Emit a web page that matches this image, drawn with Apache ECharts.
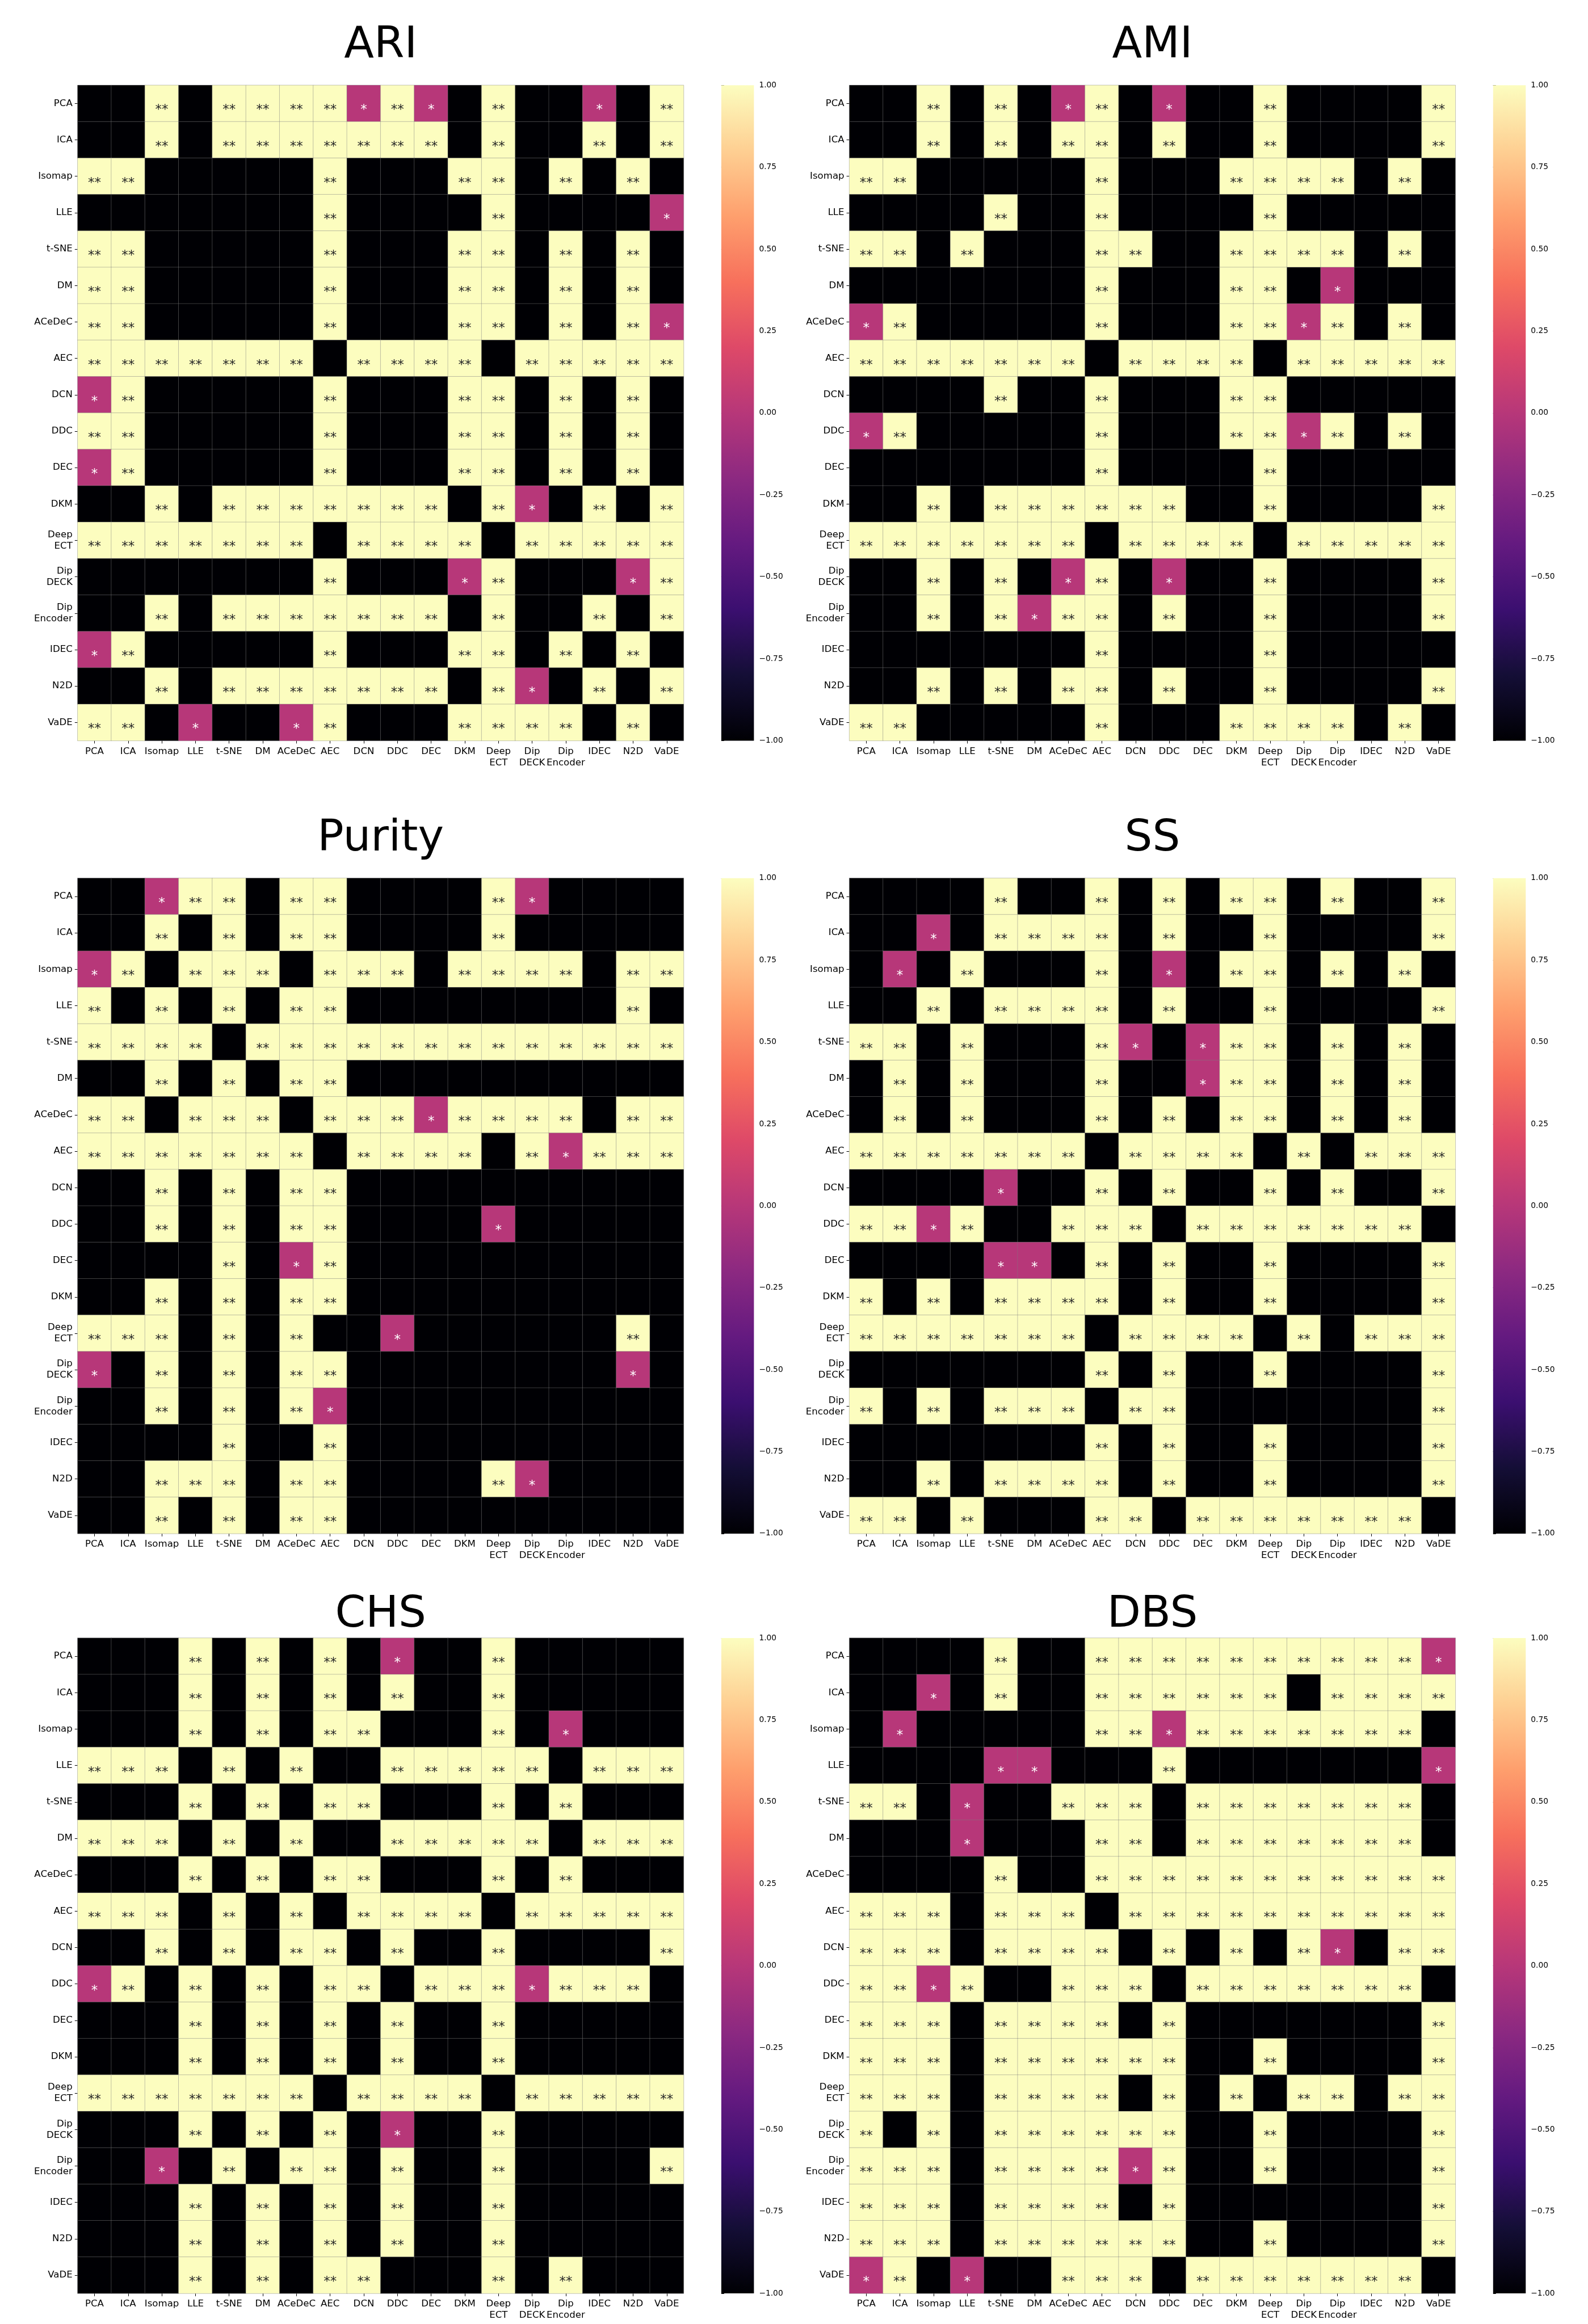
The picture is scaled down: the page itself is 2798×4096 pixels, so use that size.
<!DOCTYPE html>
<html>
<head>
<meta charset="utf-8">
<script src="https://cdn.jsdelivr.net/npm/echarts@6/dist/echarts.min.js"></script>
<style>html,body{margin:0;padding:0;background:#fff;}#chart{width:2798px;height:4096px;}</style>
</head>
<body>
<div id="chart"></div>
<script>
// ---- data ----
const methods = ['PCA','ICA','Isomap','LLE','t-SNE','DM','ACeDeC','AEC','DCN','DDC','DEC','DKM','Deep\nECT','Dip\nDECK','Dip\nEncoder','IDEC','N2D','VaDE'];
const panelTitles = ['ARI','AMI','Purity','SS','CHS','DBS'];
const cbTicks = [-1,-0.75,-0.5,-0.25,0,0.25,0.5,0.75,1];
const cbMin = -1, cbMax = 1;
// 1 = "**", 0 = "*", -1 = not significant
const ari = [
[-1,-1,1,-1,1,1,1,1,0,1,0,-1,1,-1,-1,0,-1,1],
[-1,-1,1,-1,1,1,1,1,1,1,1,-1,1,-1,-1,1,-1,1],
[1,1,-1,-1,-1,-1,-1,1,-1,-1,-1,1,1,-1,1,-1,1,-1],
[-1,-1,-1,-1,-1,-1,-1,1,-1,-1,-1,-1,1,-1,-1,-1,-1,0],
[1,1,-1,-1,-1,-1,-1,1,-1,-1,-1,1,1,-1,1,-1,1,-1],
[1,1,-1,-1,-1,-1,-1,1,-1,-1,-1,1,1,-1,1,-1,1,-1],
[1,1,-1,-1,-1,-1,-1,1,-1,-1,-1,1,1,-1,1,-1,1,0],
[1,1,1,1,1,1,1,-1,1,1,1,1,-1,1,1,1,1,1],
[0,1,-1,-1,-1,-1,-1,1,-1,-1,-1,1,1,-1,1,-1,1,-1],
[1,1,-1,-1,-1,-1,-1,1,-1,-1,-1,1,1,-1,1,-1,1,-1],
[0,1,-1,-1,-1,-1,-1,1,-1,-1,-1,1,1,-1,1,-1,1,-1],
[-1,-1,1,-1,1,1,1,1,1,1,1,-1,1,0,-1,1,-1,1],
[1,1,1,1,1,1,1,-1,1,1,1,1,-1,1,1,1,1,1],
[-1,-1,-1,-1,-1,-1,-1,1,-1,-1,-1,0,1,-1,-1,-1,0,1],
[-1,-1,1,-1,1,1,1,1,1,1,1,-1,1,-1,-1,1,-1,1],
[0,1,-1,-1,-1,-1,-1,1,-1,-1,-1,1,1,-1,1,-1,1,-1],
[-1,-1,1,-1,1,1,1,1,1,1,1,-1,1,0,-1,1,-1,1],
[1,1,-1,0,-1,-1,0,1,-1,-1,-1,1,1,1,1,-1,1,-1]
];
const ami = [
[-1,-1,1,-1,1,-1,0,1,-1,0,-1,-1,1,-1,-1,-1,-1,1],
[-1,-1,1,-1,1,-1,1,1,-1,1,-1,-1,1,-1,-1,-1,-1,1],
[1,1,-1,-1,-1,-1,-1,1,-1,-1,-1,1,1,1,1,-1,1,-1],
[-1,-1,-1,-1,1,-1,-1,1,-1,-1,-1,-1,1,-1,-1,-1,-1,-1],
[1,1,-1,1,-1,-1,-1,1,1,-1,-1,1,1,1,1,-1,1,-1],
[-1,-1,-1,-1,-1,-1,-1,1,-1,-1,-1,1,1,-1,0,-1,-1,-1],
[0,1,-1,-1,-1,-1,-1,1,-1,-1,-1,1,1,0,1,-1,1,-1],
[1,1,1,1,1,1,1,-1,1,1,1,1,-1,1,1,1,1,1],
[-1,-1,-1,-1,1,-1,-1,1,-1,-1,-1,1,1,-1,-1,-1,-1,-1],
[0,1,-1,-1,-1,-1,-1,1,-1,-1,-1,1,1,0,1,-1,1,-1],
[-1,-1,-1,-1,-1,-1,-1,1,-1,-1,-1,-1,1,-1,-1,-1,-1,-1],
[-1,-1,1,-1,1,1,1,1,1,1,-1,-1,1,-1,-1,-1,-1,1],
[1,1,1,1,1,1,1,-1,1,1,1,1,-1,1,1,1,1,1],
[-1,-1,1,-1,1,-1,0,1,-1,0,-1,-1,1,-1,-1,-1,-1,1],
[-1,-1,1,-1,1,0,1,1,-1,1,-1,-1,1,-1,-1,-1,-1,1],
[-1,-1,-1,-1,-1,-1,-1,1,-1,-1,-1,-1,1,-1,-1,-1,-1,-1],
[-1,-1,1,-1,1,-1,1,1,-1,1,-1,-1,1,-1,-1,-1,-1,1],
[1,1,-1,-1,-1,-1,-1,1,-1,-1,-1,1,1,1,1,-1,1,-1]
];
const purity = [
[-1,-1,0,1,1,-1,1,1,-1,-1,-1,-1,1,0,-1,-1,-1,-1],
[-1,-1,1,-1,1,-1,1,1,-1,-1,-1,-1,1,-1,-1,-1,-1,-1],
[0,1,-1,1,1,1,-1,1,1,1,-1,1,1,1,1,-1,1,1],
[1,-1,1,-1,1,-1,1,1,-1,-1,-1,-1,-1,-1,-1,-1,1,-1],
[1,1,1,1,-1,1,1,1,1,1,1,1,1,1,1,1,1,1],
[-1,-1,1,-1,1,-1,1,1,-1,-1,-1,-1,-1,-1,-1,-1,-1,-1],
[1,1,-1,1,1,1,-1,1,1,1,0,1,1,1,1,-1,1,1],
[1,1,1,1,1,1,1,-1,1,1,1,1,-1,1,0,1,1,1],
[-1,-1,1,-1,1,-1,1,1,-1,-1,-1,-1,-1,-1,-1,-1,-1,-1],
[-1,-1,1,-1,1,-1,1,1,-1,-1,-1,-1,0,-1,-1,-1,-1,-1],
[-1,-1,-1,-1,1,-1,0,1,-1,-1,-1,-1,-1,-1,-1,-1,-1,-1],
[-1,-1,1,-1,1,-1,1,1,-1,-1,-1,-1,-1,-1,-1,-1,-1,-1],
[1,1,1,-1,1,-1,1,-1,-1,0,-1,-1,-1,-1,-1,-1,1,-1],
[0,-1,1,-1,1,-1,1,1,-1,-1,-1,-1,-1,-1,-1,-1,0,-1],
[-1,-1,1,-1,1,-1,1,0,-1,-1,-1,-1,-1,-1,-1,-1,-1,-1],
[-1,-1,-1,-1,1,-1,-1,1,-1,-1,-1,-1,-1,-1,-1,-1,-1,-1],
[-1,-1,1,1,1,-1,1,1,-1,-1,-1,-1,1,0,-1,-1,-1,-1],
[-1,-1,1,-1,1,-1,1,1,-1,-1,-1,-1,-1,-1,-1,-1,-1,-1]
];
const ss = [
[-1,-1,-1,-1,1,-1,-1,1,-1,1,-1,1,1,-1,1,-1,-1,1],
[-1,-1,0,-1,1,1,1,1,-1,1,-1,-1,1,-1,-1,-1,-1,1],
[-1,0,-1,1,-1,-1,-1,1,-1,0,-1,1,1,-1,1,-1,1,-1],
[-1,-1,1,-1,1,1,1,1,-1,1,-1,-1,1,-1,-1,-1,-1,1],
[1,1,-1,1,-1,-1,-1,1,0,-1,0,1,1,-1,1,-1,1,-1],
[-1,1,-1,1,-1,-1,-1,1,-1,-1,0,1,1,-1,1,-1,1,-1],
[-1,1,-1,1,-1,-1,-1,1,-1,1,-1,1,1,-1,1,-1,1,-1],
[1,1,1,1,1,1,1,-1,1,1,1,1,-1,1,-1,1,1,1],
[-1,-1,-1,-1,0,-1,-1,1,-1,1,-1,-1,1,-1,1,-1,-1,1],
[1,1,0,1,-1,-1,1,1,1,-1,1,1,1,1,1,1,1,-1],
[-1,-1,-1,-1,0,0,-1,1,-1,1,-1,-1,1,-1,-1,-1,-1,1],
[1,-1,1,-1,1,1,1,1,-1,1,-1,-1,1,-1,-1,-1,-1,1],
[1,1,1,1,1,1,1,-1,1,1,1,1,-1,1,-1,1,1,1],
[-1,-1,-1,-1,-1,-1,-1,1,-1,1,-1,-1,1,-1,-1,-1,-1,1],
[1,-1,1,-1,1,1,1,-1,1,1,-1,-1,-1,-1,-1,-1,-1,1],
[-1,-1,-1,-1,-1,-1,-1,1,-1,1,-1,-1,1,-1,-1,-1,-1,1],
[-1,-1,1,-1,1,1,1,1,-1,1,-1,-1,1,-1,-1,-1,-1,1],
[1,1,-1,1,-1,-1,-1,1,1,-1,1,1,1,1,1,1,1,-1]
];
const chs = [
[-1,-1,-1,1,-1,1,-1,1,-1,0,-1,-1,1,-1,-1,-1,-1,-1],
[-1,-1,-1,1,-1,1,-1,1,-1,1,-1,-1,1,-1,-1,-1,-1,-1],
[-1,-1,-1,1,-1,1,-1,1,1,-1,-1,-1,1,-1,0,-1,-1,-1],
[1,1,1,-1,1,-1,1,-1,-1,1,1,1,1,1,-1,1,1,1],
[-1,-1,-1,1,-1,1,-1,1,1,-1,-1,-1,1,-1,1,-1,-1,-1],
[1,1,1,-1,1,-1,1,-1,-1,1,1,1,1,1,-1,1,1,1],
[-1,-1,-1,1,-1,1,-1,1,1,-1,-1,-1,1,-1,1,-1,-1,-1],
[1,1,1,-1,1,-1,1,-1,1,1,1,1,-1,1,1,1,1,1],
[-1,-1,1,-1,1,-1,1,1,-1,1,-1,-1,1,-1,-1,-1,-1,1],
[0,1,-1,1,-1,1,-1,1,1,-1,1,1,1,0,1,1,1,-1],
[-1,-1,-1,1,-1,1,-1,1,-1,1,-1,-1,1,-1,-1,-1,-1,-1],
[-1,-1,-1,1,-1,1,-1,1,-1,1,-1,-1,1,-1,-1,-1,-1,-1],
[1,1,1,1,1,1,1,-1,1,1,1,1,-1,1,1,1,1,1],
[-1,-1,-1,1,-1,1,-1,1,-1,0,-1,-1,1,-1,-1,-1,-1,-1],
[-1,-1,0,-1,1,-1,1,1,-1,1,-1,-1,1,-1,-1,-1,-1,1],
[-1,-1,-1,1,-1,1,-1,1,-1,1,-1,-1,1,-1,-1,-1,-1,-1],
[-1,-1,-1,1,-1,1,-1,1,-1,1,-1,-1,1,-1,-1,-1,-1,-1],
[-1,-1,-1,1,-1,1,-1,1,1,-1,-1,-1,1,-1,1,-1,-1,-1]
];
const dbs = [
[-1,-1,-1,-1,1,-1,-1,1,1,1,1,1,1,1,1,1,1,0],
[-1,-1,0,-1,1,-1,-1,1,1,1,1,1,1,-1,1,1,1,1],
[-1,0,-1,-1,-1,-1,-1,1,1,0,1,1,1,1,1,1,1,-1],
[-1,-1,-1,-1,0,0,-1,-1,-1,1,-1,-1,-1,-1,-1,-1,-1,0],
[1,1,-1,0,-1,-1,1,1,1,-1,1,1,1,1,1,1,1,-1],
[-1,-1,-1,0,-1,-1,-1,1,1,-1,1,1,1,1,1,1,1,-1],
[-1,-1,-1,-1,1,-1,-1,1,1,1,1,1,1,1,1,1,1,1],
[1,1,1,-1,1,1,1,-1,1,1,1,1,1,1,1,1,1,1],
[1,1,1,-1,1,1,1,1,-1,1,-1,1,-1,1,0,-1,1,1],
[1,1,0,1,-1,-1,1,1,1,-1,1,1,1,1,1,1,1,-1],
[1,1,1,-1,1,1,1,1,-1,1,-1,-1,-1,-1,-1,-1,-1,1],
[1,1,1,-1,1,1,1,1,1,1,-1,-1,1,-1,-1,-1,-1,1],
[1,1,1,-1,1,1,1,1,-1,1,-1,1,-1,1,1,-1,1,1],
[1,-1,1,-1,1,1,1,1,1,1,-1,-1,1,-1,-1,-1,-1,1],
[1,1,1,-1,1,1,1,1,0,1,-1,-1,1,-1,-1,-1,-1,1],
[1,1,1,-1,1,1,1,1,-1,1,-1,-1,-1,-1,-1,-1,-1,1],
[1,1,1,-1,1,1,1,1,1,1,-1,-1,1,-1,-1,-1,-1,1],
[0,1,-1,0,-1,-1,1,1,1,-1,1,1,1,1,1,1,1,-1]
];
const panels = [ari, ami, purity, ss, chs, dbs];

// ---- styling / layout ----
const magma = ['#000004','#140e36','#3b0f70','#641a80','#8c2981','#b73779','#de4968','#f7705c','#fe9f6d','#fecf92','#fcfdbf'];
const stars = {'1':'**','0':'*','-1':''};
const FONT = 'DejaVu Sans';
const colLeft = [136.8, 1496.6];
const cbLeft = [1270.9, 2630.8];
const rowTop = [150.3, 1547.8, 2887.0];
const titleBase = [104.3, 1501.8, 2870.0];
const mapW = 1067.7, mapH = 1155.1, cbW = 57.5;

const chart = echarts.init(document.getElementById('chart'), null, {renderer:'canvas'});

const grid = [], xAxis = [], yAxis = [], series = [], graphic = [];
const tickStyle = {show:true, length:5, lineStyle:{color:'#000', width:1}};
const labelBase = {fontFamily:FONT, color:'#000'};

panels.forEach((m, i) => {
  const r = Math.floor(i / 2), c = i % 2;
  grid.push({left:colLeft[c], top:rowTop[r], width:mapW, height:mapH, containLabel:false});
  xAxis.push({type:'category', gridIndex:i, data:methods, position:'bottom',
    axisLine:{show:false}, axisTick:Object.assign({alignWithLabel:true}, tickStyle),
    splitLine:{show:false}, splitArea:{show:false},
    axisLabel:Object.assign({interval:0, fontSize:16.6, margin:9, lineHeight:20, hideOverlap:false}, labelBase)});
  yAxis.push({type:'category', gridIndex:i, data:methods, inverse:true,
    axisLine:{show:false}, axisTick:Object.assign({alignWithLabel:true}, tickStyle),
    splitLine:{show:false}, splitArea:{show:false},
    axisLabel:Object.assign({interval:0, fontSize:16.6, margin:9, lineHeight:20}, labelBase)});
  const data = [];
  m.forEach((row, yi) => row.forEach((v, xi) => {
    data.push({value:[xi, yi, v], label:{color: v === 0 ? '#ffffff' : '#262626'}});
  }));
  series.push({type:'heatmap', xAxisIndex:i, yAxisIndex:i, data:data, progressive:0,
    itemStyle:{borderColor:'rgba(128,128,128,0.45)', borderWidth:1},
    label:{show:true, formatter:p => stars[String(p.value[2])], fontSize:23, fontFamily:FONT, offset:[0,12]},
    emphasis:{disabled:true}});
  graphic.push({type:'text', x:colLeft[c] + mapW / 2, y:titleBase[r] - 0.297 * 77,
    style:{text:panelTitles[i], fontSize:77, fontFamily:FONT, fill:'#000', align:'center', verticalAlign:'middle'}});
});

// colorbars
panels.forEach((m, i) => {
  const r = Math.floor(i / 2), c = i % 2;
  const gi = panels.length + i;
  grid.push({left:cbLeft[c], top:rowTop[r], width:cbW, height:mapH});
  xAxis.push({type:'value', gridIndex:gi, min:0, max:1, show:false});
  yAxis.push({type:'value', gridIndex:gi, min:cbMin, max:cbMax, interval:0.25, position:'right',
    axisLine:{show:false}, axisTick:tickStyle, splitLine:{show:false},
    axisLabel:Object.assign({fontSize:13.8, margin:9,
      formatter:v => (v < 0 ? '\u2212' : '') + Math.abs(v).toFixed(2)}, labelBase)});
  series.push({type:'custom', xAxisIndex:gi, yAxisIndex:gi, data:[[0, cbMin, 1, cbMax]], silent:true,
    renderItem:(params, api) => {
      const p0 = api.coord([api.value(0), api.value(3)]);
      const p1 = api.coord([api.value(2), api.value(1)]);
      const stops = magma.map((col, k) => ({offset: 1 - k / (magma.length - 1), color: col}));
      return {type:'rect', shape:{x:p0[0], y:p0[1], width:p1[0] - p0[0], height:p1[1] - p0[1]},
        style:{fill:new echarts.graphic.LinearGradient(0, 0, 0, 1, stops)}};
    }});
});

chart.setOption({
  animation:false,
  backgroundColor:'#ffffff',
  grid, xAxis, yAxis, series, graphic,
  visualMap:{type:'continuous', show:false, min:cbMin, max:cbMax, dimension:2,
    seriesIndex:[0,1,2,3,4,5], inRange:{color:magma}}
});
</script>
</body>
</html>
